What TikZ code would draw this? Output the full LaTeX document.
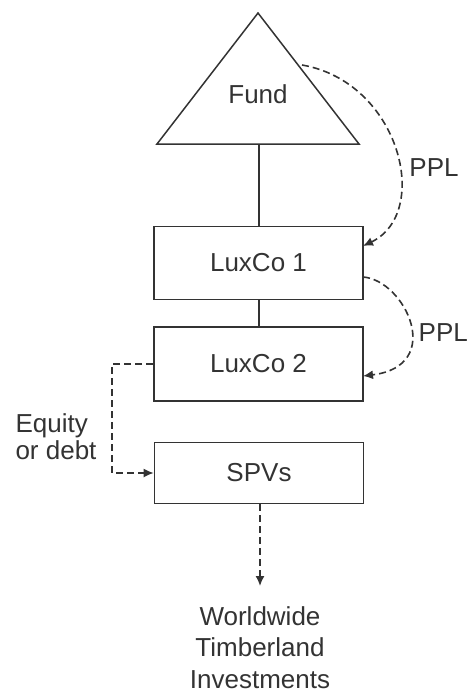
\documentclass[tikz,border=0pt]{standalone}
\usepackage{fontspec}
\setmainfont{Liberation Sans}
\usetikzlibrary{arrows.meta}
\definecolor{ink}{HTML}{333333}
\begin{document}
\begin{tikzpicture}[x=1pt,y=-1pt,
  every node/.style={text=ink,font=\fontsize{26}{31}\selectfont},
  box/.style={draw=ink,line width=1.6pt,minimum width=209pt,inner sep=0pt},
  solidline/.style={draw=ink,line width=1.5pt},
  dashline/.style={draw=ink,line width=1.6pt,dash pattern=on 7pt off 4pt},
  tip/.style={-{Latex[length=10pt,width=9pt]}}]
\useasboundingbox (0,0) rectangle (469,693);
% Fund triangle
\coordinate (apex) at (258,13);
\coordinate (bl) at (157,144);
\coordinate (br) at (359,144);
\coordinate (fundbase) at (259,144);
\coordinate (fundedge) at (302,65);
\draw[solidline,line join=miter] (apex) -- (br) -- (bl) -- cycle;
\node (fund) at (258,94) {Fund};
% boxes
\node[box,minimum height=73pt] (l1) at (258.5,263) {LuxCo 1};
\node[box,minimum height=74pt] (l2) at (258.5,364) {LuxCo 2};
\node[box,minimum height=61pt] (spv) at (259,473) {SPVs};
% solid links
\draw[solidline] (fundbase) -- (fundbase |- l1.north);
\draw[solidline] (259,300) coordinate (l1b) -- (l1b |- l2.north);
% PPL arrows
\coordinate (l1in) at (363,246);
\coordinate (l1out) at (363,277);
\coordinate (l2in) at (363,376);
\draw[dashline,tip] (fundedge) .. controls (400,82) and (432,213) .. (l1in);
\draw[dashline,tip] (l1out) .. controls (405,280) and (446,366) .. (l2in);
\node (ppl1) at (434,168) {PPL};
\node[inner sep=0pt,anchor=east] (ppl2) at (468,333) {PPL};
% equity or debt
\draw[dashline,tip] (l2.west) -- ++(-41,0) |- (spv.west);
\node[align=left,inner sep=0pt,font=\fontsize{26}{27}\selectfont] (eq) at (56,437) {Equity\\or debt};
% worldwide
\coordinate (wend) at (260,586);
\draw[dashline,tip] (spv.south -| wend) -- (wend);
\node[align=center,anchor=north,inner sep=0pt,font=\fontsize{26}{31.5}\selectfont] (wti) at (260,606) {Worldwide\\Timberland\\Investments};
\end{tikzpicture}
\end{document}
